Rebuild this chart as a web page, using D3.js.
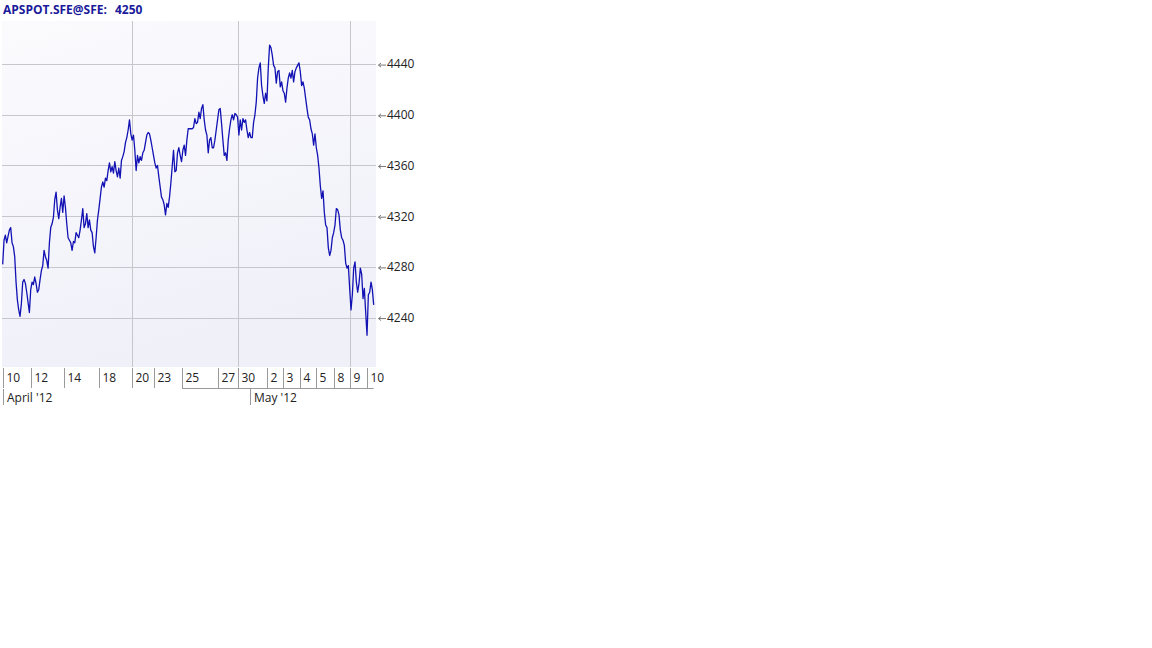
<!DOCTYPE html>
<html>
<head>
<meta charset="utf-8">
<script src="https://cdn.jsdelivr.net/npm/d3@7"></script>
<style>
	body { margin: 0; background: #fff; }
	svg { display: block; font-family: "Open Sans", "Noto Sans", sans-serif; }
</style>
</head>
<body>
<svg id="chart" width="1152" height="648"></svg>
<script>
const SYMBOL = 'APSPOT.SFE@SFE:';
const LAST = 4250;

// intraday prices (trading-time order)
const prices = [
	4282,4301,4305,4299,4304,4309,4311,4299,4296,4288,4268,4254,4246,4241,4251,4268,4270,4267,4260,4252,
	4244,4262,4268,4266,4272,4267,4260,4262,4270,4277,4281,4293,4288,4285,4279,4299,4311,4314,4319,4333,
	4339,4325,4318,4327,4334,4323,4336,4327,4314,4303,4301,4299,4293,4300,4299,4307,4305,4303,4309,4317,
	4326,4311,4314,4322,4311,4317,4309,4307,4296,4291,4303,4317,4325,4334,4343,4347,4343,4350,4348,4356,
	4362,4355,4359,4354,4363,4356,4351,4358,4350,4364,4367,4371,4378,4382,4388,4396,4385,4380,4384,4372,
	4356,4368,4362,4367,4364,4370,4372,4378,4384,4386,4385,4380,4374,4368,4362,4358,4360,4351,4343,4335,
	4333,4329,4321,4330,4327,4335,4346,4359,4372,4355,4356,4370,4374,4368,4363,4372,4376,4368,4380,4389,
	4389,4389,4389,4390,4397,4393,4394,4402,4397,4405,4408,4396,4388,4384,4370,4380,4382,4374,4374,4380,
	4388,4396,4404,4405,4393,4380,4368,4370,4364,4380,4389,4396,4400,4396,4401,4400,4398,4384,4396,4388,
	4397,4394,4396,4388,4382,4386,4382,4382,4394,4400,4410,4429,4437,4441,
	4423,4415,4409,4417,4411,4437,4455,4453,4447,4439,4437,4425,4434,
	4435,
	4422,4426,4419,4417,4410,4421,4429,4433,
	4429,4435,4426,4434,
	4437,4439,4441,4434,4423,4426,4421,4413,
	4405,4398,4396,4389,4385,
	4376,4385,4374,4368,4358,4344,4334,4340,
	4323,4313,4311,
	4295,4289,4293,4303,4307,4313,
	4326,4325,4321,4309,4303,
	4301,4297,4283,4279,4281,4263,4246,4258,4279,4284,4268,4260,4267,4279,4274,4255,4263,4244,4226,4258,4260,4268,4262,4250
];

// x axis: day labels and the sample index where each day starts
const dayLabels = ['10','12','14','18','20','23','25','27','30','2','3','4','5','8','9','10'];
const dayStarts = [0,21,46,72,97,113,134,161,176,198,210,223,235,248,260,273];
const gridDays = [97,176,260];
const monthLabels = ["April '12", "May '12"];
const monthStarts = [0,185];

const yTicks = [4240,4280,4320,4360,4400,4440];
const yDomain = [4201,4474];

const svg = d3.select('#chart');

const plot = {left: 2, top: 21, right: 376, bottom: 367};

const x = d3.scaleLinear()
	.domain([0, prices.length - 1])
	.range([2.7, 373.7]);

// rounded copy for crisp tick / grid lines
const xr = x.copy().interpolate(d3.interpolateRound);

const y = d3.scaleLinear()
	.domain(yDomain)
	.range([plot.bottom, plot.top]);

// background
const defs = svg.append('defs');
const grad = defs.append('linearGradient')
	.attr('id', 'bg')
	.attr('x1', 0).attr('y1', 0)
	.attr('x2', 0.3).attr('y2', 1);
grad.append('stop').attr('offset', '0%').attr('stop-color', '#fbfbfe');
grad.append('stop').attr('offset', '100%').attr('stop-color', '#f0f0f9');

svg.append('rect')
	.attr('x', plot.left)
	.attr('y', plot.top)
	.attr('width', plot.right - plot.left)
	.attr('height', plot.bottom - plot.top)
	.attr('fill', 'url(#bg)');

// horizontal grid
svg.append('g')
	.attr('class', 'hgrid')
	.selectAll('line')
	.data(yTicks)
	.enter().append('line')
		.attr('x1', plot.left)
		.attr('x2', plot.right)
		.attr('y1', d => Math.round(y(d)) + 0.5)
		.attr('y2', d => Math.round(y(d)) + 0.5)
		.attr('stroke', '#c6c6cc')
		.attr('stroke-width', 1);

// vertical grid
svg.append('g')
	.attr('class', 'vgrid')
	.selectAll('line')
	.data(gridDays)
	.enter().append('line')
		.attr('x1', d => xr(d) + 0.5)
		.attr('x2', d => xr(d) + 0.5)
		.attr('y1', plot.top)
		.attr('y2', plot.bottom)
		.attr('stroke', '#c6c6cc')
		.attr('stroke-width', 1);

// price line
const line = d3.line()
	.x((d, i) => x(i))
	.y(d => y(d));

svg.append('path')
	.datum(prices)
	.attr('d', line)
	.attr('fill', 'none')
	.attr('stroke', '#1212b4')
	.attr('stroke-width', 1.3)
	.attr('stroke-linejoin', 'round');

// y axis (right)
const yAxis = d3.axisRight(y)
	.tickValues(yTicks)
	.tickSize(0)
	.tickPadding(0)
	.tickFormat(d3.format('d'));

const yg = svg.append('g')
	.attr('transform', 'translate(' + plot.right + ',0)')
	.call(yAxis);
yg.select('.domain').remove();
yg.selectAll('text')
	.attr('x', 11)
	.attr('fill', '#222')
	.style('font-size', '12px')
	.style('font-family', '"Open Sans", "Noto Sans", sans-serif');
// little arrows pointing at the gridlines
yg.selectAll('.tick').append('path')
	.attr('d', 'M2.5,0.5 H10 M2.5,0.5 L5,-1.5 M2.5,0.5 L5,2.5')
	.attr('fill', 'none')
	.attr('stroke', '#777')
	.attr('stroke-width', 1);

// x axis: day cells
const xAxis = d3.axisBottom(xr)
	.tickValues(dayStarts)
	.tickSize(20)
	.tickPadding(0)
	.tickFormat((d, i) => dayLabels[i]);

const xg = svg.append('g')
	.attr('transform', 'translate(0,' + (plot.bottom + 1) + ')')
	.call(xAxis);
xg.select('.domain').remove();
xg.selectAll('.tick line').attr('stroke', '#9a9a9a');
xg.selectAll('.tick text')
	.attr('x', 3)
	.attr('y', 14)
	.attr('dy', null)
	.attr('text-anchor', 'start')
	.attr('fill', '#222')
	.style('font-size', '12px')
	.style('font-family', '"Open Sans", "Noto Sans", sans-serif');

svg.append('line')
	.attr('x1', xr(dayStarts[6]))
	.attr('x2', x(prices.length - 1))
	.attr('y1', plot.bottom + 21.5)
	.attr('y2', plot.bottom + 21.5)
	.attr('stroke', '#9a9a9a');

// month row
const month = svg.append('g')
	.attr('class', 'months')
	.selectAll('g')
	.data(monthStarts)
	.enter().append('g')
		.attr('transform', d => 'translate(' + (xr(d) + 0.5) + ',' + (plot.bottom + 22) + ')');

month.append('line')
	.attr('y1', 0)
	.attr('y2', 16)
	.attr('stroke', '#9a9a9a');

month.append('text')
	.text((d, i) => monthLabels[i])
	.attr('x', 3.5)
	.attr('y', 13)
	.attr('fill', '#222')
	.style('font-size', '12px');

// title
svg.append('text')
	.text(SYMBOL)
	.attr('x', 3)
	.attr('y', 14)
	.attr('fill', '#1a1a9a')
	.style('font-weight', 'bold')
	.style('font-size', '12px');

svg.append('text')
	.text(LAST)
	.attr('x', 115)
	.attr('y', 14)
	.attr('fill', '#1a1a9a')
	.style('font-weight', 'bold')
	.style('font-size', '12px');
</script>
</body>
</html>
